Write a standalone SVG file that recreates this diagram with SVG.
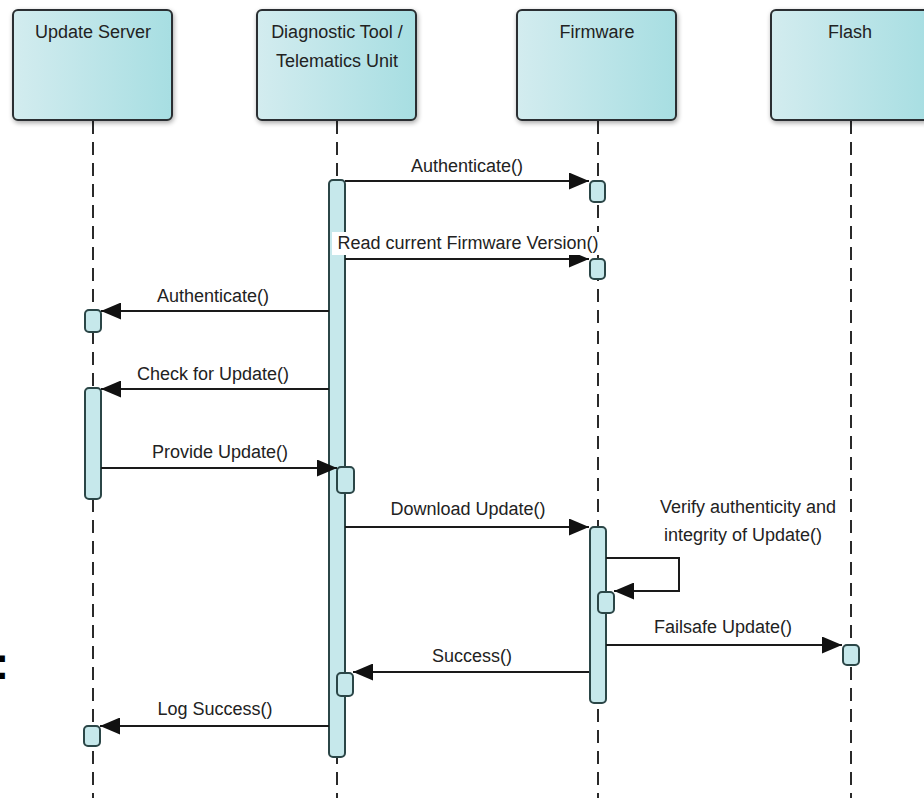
<svg xmlns="http://www.w3.org/2000/svg" width="924" height="798" viewBox="0 0 924 798">
<defs>
  <linearGradient id="hdr" x1="0" y1="0" x2="1" y2="0">
    <stop offset="0" stop-color="#d3ecef"/>
    <stop offset="1" stop-color="#a7dee2"/>
  </linearGradient>
  <filter id="shadow" x="-10%" y="-10%" width="120%" height="120%">
    <feGaussianBlur in="SourceAlpha" stdDeviation="2.5"/>
    <feOffset dx="1" dy="2" result="b"/>
    <feComponentTransfer><feFuncA type="linear" slope="0.35"/></feComponentTransfer>
    <feMerge><feMergeNode/><feMergeNode in="SourceGraphic"/></feMerge>
  </filter>
  <marker id="arr" markerUnits="userSpaceOnUse" markerWidth="20" markerHeight="17" refX="20" refY="8.5" orient="auto">
    <path d="M0,0 L20,8.5 L0,17 z" fill="#111"/>
  </marker>
  <style>
    .hdr { fill: url(#hdr); stroke: #2a2f30; stroke-width: 2; filter: url(#shadow); }
    .life { stroke: #2a2a2a; stroke-width: 2; stroke-dasharray: 13 8; fill: none; }
    .act { fill: #c6e8eb; stroke: #2b4647; stroke-width: 2; }
    .msg { stroke: #1a1a1a; stroke-width: 2; fill: none; marker-end: url(#arr); }
    text { font-family: "Liberation Sans", Arial, sans-serif; fill: #222; }
    .t { font-size: 18px; text-anchor: middle; }
    .lbl { font-size: 18px; text-anchor: middle; }
  </style>
</defs>
<rect width="924" height="798" fill="#ffffff"/>

<g id="lifelines">
  <line class="life" x1="93" y1="121" x2="93" y2="798"/>
  <line class="life" x1="337" y1="121" x2="337" y2="798"/>
  <line class="life" x1="598" y1="121" x2="598" y2="798"/>
  <line class="life" x1="851" y1="121" x2="851" y2="798"/>
</g>

<g id="update-server">
  <rect class="hdr" x="13" y="10" width="159" height="110" rx="5"/>
  <text class="t" x="93" y="38">Update Server</text>
</g>
<g id="diagnostic-tool">
  <rect class="hdr" x="257" y="10" width="159" height="110" rx="5"/>
  <text class="t" x="337" y="38">Diagnostic Tool /</text>
  <text class="t" x="337" y="67">Telematics Unit</text>
</g>
<g id="firmware">
  <rect class="hdr" x="517" y="10" width="159" height="110" rx="5"/>
  <text class="t" x="597" y="38">Firmware</text>
</g>
<g id="flash">
  <rect class="hdr" x="771" y="10" width="159" height="110" rx="5"/>
  <text class="t" x="850" y="38">Flash</text>
</g>

<g id="activations">
  <rect class="act" x="329" y="180" width="16" height="577" rx="4"/>
  <rect class="act" x="590" y="181" width="15" height="21" rx="4"/>
  <rect class="act" x="590" y="259" width="15" height="20" rx="4"/>
  <rect class="act" x="85" y="310" width="16" height="22" rx="4"/>
  <rect class="act" x="85" y="388" width="16" height="111" rx="4"/>
  <rect class="act" x="337" y="467" width="17" height="26" rx="4"/>
  <rect class="act" x="590" y="527" width="16" height="176" rx="4"/>
  <rect class="act" x="598" y="592" width="16" height="21" rx="4"/>
  <rect class="act" x="843" y="645" width="16" height="20" rx="4"/>
  <rect class="act" x="337" y="673" width="16" height="23" rx="4"/>
  <rect class="act" x="84" y="726" width="16" height="20" rx="4"/>
</g>

<g id="connectors">
  <path class="msg" d="M345,181 H589"/>
  <path class="msg" d="M345,259 H589"/>
  <path class="msg" d="M329,311 H101"/>
  <path class="msg" d="M329,389 H101"/>
  <path class="msg" d="M101,468 H337"/>
  <path class="msg" d="M345,527 H589"/>
  <path class="msg" d="M606,558 H679 V591 H614"/>
  <path class="msg" d="M606,645 H842"/>
  <path class="msg" d="M589,672 H353"/>
  <path class="msg" d="M329,726 H100"/>
</g>

<g id="labels">
  <text class="lbl" x="467" y="172">Authenticate()</text>
  <rect x="332" y="232" width="272" height="23" fill="#ffffff"/>
  <text class="lbl" x="468" y="249">Read current Firmware Version()</text>
  <text class="lbl" x="213" y="302">Authenticate()</text>
  <text class="lbl" x="213" y="380">Check for Update()</text>
  <text class="lbl" x="220" y="458">Provide Update()</text>
  <text class="lbl" x="468" y="515">Download Update()</text>
  <text class="lbl" x="748" y="513">Verify authenticity and</text>
  <text class="lbl" x="743" y="541">integrity of Update()</text>
  <text class="lbl" x="723" y="633">Failsafe Update()</text>
  <text class="lbl" x="472" y="662">Success()</text>
  <text class="lbl" x="215" y="715">Log Success()</text>
</g>

<text x="-6" y="679" font-size="46" font-weight="bold" style="fill:#000">:</text>
</svg>
